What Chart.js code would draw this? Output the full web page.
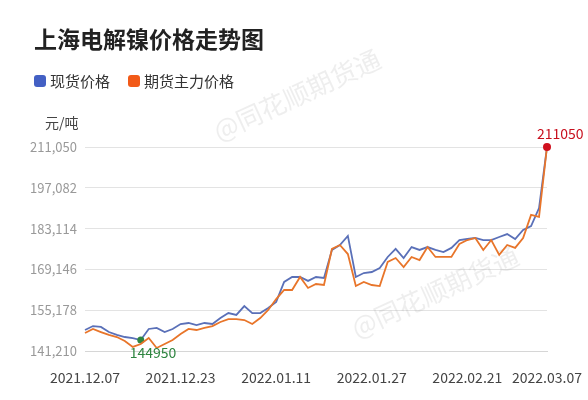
<!DOCTYPE html>
<html>
<head>
<meta charset="utf-8">
<script src="https://cdn.jsdelivr.net/npm/chart.js@4.4.1/dist/chart.umd.min.js"></script>
<style>
  body { margin: 0; background: #fff; }
  #wrap { width: 588px; height: 400px; }
</style>
</head>
<body>
<div id="wrap"><canvas id="nickelChart" width="588" height="400"></canvas></div>
<script>
// trading days 2021.12.07 - 2022.03.07
const dates = [
    '2021.12.07', '2021.12.08', '2021.12.09', '2021.12.10', '2021.12.13', '2021.12.14', '2021.12.15', '2021.12.16',
    '2021.12.17', '2021.12.20', '2021.12.21', '2021.12.22', '2021.12.23', '2021.12.24', '2021.12.27', '2021.12.28',
    '2021.12.29', '2021.12.30', '2021.12.31', '2022.01.04', '2022.01.05', '2022.01.06', '2022.01.07', '2022.01.10',
    '2022.01.11', '2022.01.12', '2022.01.13', '2022.01.14', '2022.01.17', '2022.01.18', '2022.01.19', '2022.01.20',
    '2022.01.21', '2022.01.24', '2022.01.25', '2022.01.26', '2022.01.27', '2022.01.28', '2022.02.07', '2022.02.08',
    '2022.02.09', '2022.02.10', '2022.02.11', '2022.02.14', '2022.02.15', '2022.02.16', '2022.02.17', '2022.02.18',
    '2022.02.21', '2022.02.22', '2022.02.23', '2022.02.24', '2022.02.25', '2022.02.28', '2022.03.01', '2022.03.02',
    '2022.03.03', '2022.03.04', '2022.03.07'
];

// 现货价格 (spot)
const spotPrices = [
    148400, 149750, 149450, 147700, 146700, 146000, 145650, 144950, 148750, 149100,
    147700, 148750, 150450, 150800, 150100, 150800, 150450, 152500, 154200, 153550,
    156600, 154200, 154200, 155950, 158000, 164850, 166550, 166550, 165200, 166550,
    166200, 175800, 177500, 180600, 166550, 167900, 168250, 169650, 173400, 176150,
    173050, 176800, 175800, 176800, 175800, 175100, 176500, 179200, 179550, 179900,
    179200, 179200, 180250, 181250, 179550, 182650, 184000, 190150, 211050
];

// 期货主力价格 (main futures contract)
const futuresPrices = [
    147350, 148750, 147700, 146700, 146000, 144650, 142600, 143600, 145650, 142250,
    143600, 145000, 147050, 148750, 148400, 149100, 149750, 151150, 152150, 152150,
    151800, 150450, 152500, 155250, 159000, 162100, 162100, 166550, 162800, 164150,
    163800, 176150, 177500, 174400, 163450, 164850, 163800, 163450, 171700, 173050,
    169950, 173400, 172350, 176800, 173400, 173400, 173400, 177850, 179200, 179900,
    175800, 179200, 174100, 177500, 176500, 179900, 187800, 187100, 211050
];

const yTicks = [141210, 155178, 169146, 183114, 197082, 211050];
const xTickLabels = ['2021.12.07', '2021.12.23', '2022.01.11', '2022.01.27', '2022.02.21', '2022.03.07'];

const FONT = "'Noto Sans CJK SC', 'Noto Sans', sans-serif";
const minIdx = spotPrices.indexOf(Math.min(...spotPrices));
const maxIdx = futuresPrices.indexOf(Math.max(...futuresPrices));

// title, legend, unit and watermark
const decorPlugin = {
    id: 'decor',
    beforeDatasetsDraw(chart) {
        const ctx = chart.ctx;
        ctx.save();
        ctx.font = '26px ' + FONT;
        ctx.fillStyle = 'rgba(150,150,150,0.16)';
        ctx.textAlign = 'center';
        ctx.textBaseline = 'middle';
        [[297, 95], [435, 292]].forEach(p => {
            ctx.save();
            ctx.translate(p[0], p[1]);
            ctx.rotate(-0.43);
            ctx.fillText('@同花顺期货通', 0, 0);
            ctx.restore();
        });
        ctx.restore();
    },
    afterDraw(chart) {
        const ctx = chart.ctx;
        ctx.save();
        ctx.textBaseline = 'middle';
        ctx.textAlign = 'left';

        ctx.font = 'bold 23px ' + FONT;
        ctx.fillStyle = '#222';
        ctx.fillText('上海电解镍价格走势图', 34, 39);

        // legend
        let x = 34;
        ctx.font = '15px ' + FONT;
        chart.data.datasets.forEach(ds => {
            ctx.fillStyle = ds.legendColor;
            ctx.beginPath();
            ctx.roundRect(x, 75, 12, 12, 3);
            ctx.fill();
            ctx.fillStyle = '#333';
            ctx.fillText(ds.label, x + 16, 81);
            x += 16 + ctx.measureText(ds.label).width + 18;
        });

        ctx.font = '14px ' + FONT;
        ctx.fillStyle = '#444';
        ctx.fillText('元/吨', 45, 123);

        // min / max labels
        const minPt = chart.getDatasetMeta(0).data[minIdx];
        const maxPt = chart.getDatasetMeta(1).data[maxIdx];
        ctx.font = '14px ' + FONT;
        ctx.fillStyle = '#2e8540';
        ctx.fillText(String(spotPrices[minIdx]), minPt.x - 11, minPt.y + 13);
        ctx.fillStyle = '#c8101e';
        ctx.fillText(String(futuresPrices[maxIdx]), maxPt.x - 10, maxPt.y - 13);
        ctx.restore();
    }
};

const ctxNickel = document.getElementById('nickelChart').getContext('2d');
const nickelChart = new Chart(ctxNickel, {
    type: 'line',
    data: {
        labels: dates,
        datasets: [
            {
                label: '现货价格',
                data: spotPrices,
                borderColor: '#5a70b8',
                legendColor: '#4360c4',
                borderWidth: 1.8,
                tension: 0,
                order: 1,
                clip: 10,
                pointRadius: ctx => ctx.dataIndex === minIdx ? 3.5 : 0,
                pointBackgroundColor: '#2e8540',
                pointBorderColor: '#2e8540',
                pointBorderWidth: 0
            },
            {
                label: '期货主力价格',
                data: futuresPrices,
                borderColor: '#e8752a',
                legendColor: '#f25a18',
                borderWidth: 1.8,
                tension: 0,
                order: 0,
                clip: 10,
                pointRadius: ctx => ctx.dataIndex === maxIdx ? 4 : 0,
                pointBackgroundColor: '#d0101e',
                pointBorderColor: '#d0101e',
                pointBorderWidth: 0
            }
        ]
    },
    options: {
        responsive: false,
        animation: false,
        devicePixelRatio: 1,
        layout: { padding: { top: 147, right: 41, left: 0, bottom: 0 } },
        plugins: {
            legend: { display: false },
            title: { display: false },
            tooltip: { enabled: false }
        },
        scales: {
            x: {
                offset: false,
                grid: { display: false },
                border: { display: true, color: '#d6d6d6' },
                ticks: {
                    autoSkip: false,
                    maxRotation: 0,
                    padding: 10,
                    color: '#444',
                    font: { family: FONT, size: 14 },
                    callback: function (value) {
                        const lbl = this.getLabelForValue(value);
                        return xTickLabels.includes(lbl) ? lbl : '';
                    }
                },
                afterFit: scale => {
                    scale.height = 49;
                    scale.paddingLeft = 0;
                    scale.paddingRight = 0;
                }
            },
            y: {
                min: yTicks[0],
                max: yTicks[yTicks.length - 1],
                grid: { color: '#e3e3e3', drawTicks: false },
                border: { display: false },
                afterBuildTicks: scale => {
                    scale.ticks = yTicks.map(v => ({ value: v }));
                },
                ticks: {
                    padding: 8,
                    color: '#999',
                    font: { family: FONT, size: 13 },
                    callback: v => v.toLocaleString('en-US')
                },
                afterFit: scale => {
                    scale.width = 85;
                    scale.paddingTop = 0;
                    scale.paddingBottom = 0;
                }
            }
        }
    },
    plugins: [decorPlugin]
});
</script>
</body>
</html>
